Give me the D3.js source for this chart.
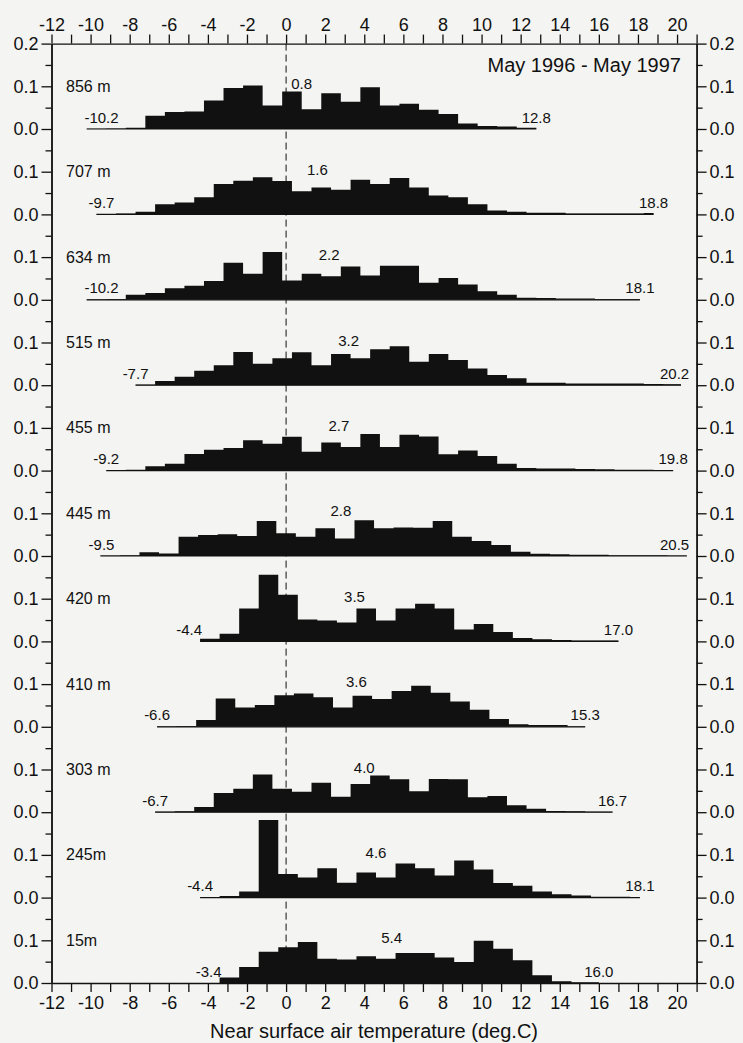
<!DOCTYPE html>
<html>
<head>
<meta charset="utf-8">
<script src="https://cdn.jsdelivr.net/npm/d3@7"></script>
<style>
  body { margin: 0; background: #f4f4f2; }
  text { font-family: "Liberation Sans", Arial, sans-serif; fill: #111; }
</style>
</head>
<body>
<div id="chart"></div>
<script>
// station heights, top panel first
const stations = ["856 m", "707 m", "634 m", "515 m", "455 m", "445 m", "420 m", "410 m", "303 m", "245m", "15m"];
const tMin  = [-10.2, -9.7, -10.2, -7.7, -9.2, -9.5, -4.4, -6.6, -6.7, -4.4, -3.4];
const tMax  = [12.8, 18.8, 18.1, 20.2, 19.8, 20.5, 17.0, 15.3, 16.7, 18.1, 16.0];
const tMean = [0.8, 1.6, 2.2, 3.2, 2.7, 2.8, 3.5, 3.6, 4.0, 4.6, 5.4];

// relative frequency in 1 deg bins, starting at each station's minimum
const f856 = [0.0005, 0.001, 0.003, 0.031, 0.040, 0.041, 0.067, 0.096, 0.102, 0.055, 0.088, 0.046, 0.084, 0.064, 0.098, 0.055, 0.059, 0.045, 0.035, 0.013, 0.007, 0.006, 0.003];
const f707 = [0.001, 0.002, 0.006, 0.024, 0.028, 0.040, 0.071, 0.079, 0.087, 0.078, 0.054, 0.063, 0.058, 0.081, 0.071, 0.085, 0.063, 0.044, 0.040, 0.024, 0.009, 0.006, 0.004, 0.004, 0.002, 0.002, 0.002, 0.002, 0.003];
const f634 = [0.001, 0.002, 0.012, 0.016, 0.027, 0.033, 0.044, 0.087, 0.061, 0.112, 0.045, 0.061, 0.055, 0.078, 0.057, 0.080, 0.080, 0.040, 0.051, 0.036, 0.020, 0.012, 0.005, 0.004, 0.003, 0.003, 0.002, 0.002, 0.002];
const f515 = [0.001, 0.010, 0.020, 0.034, 0.047, 0.078, 0.050, 0.063, 0.077, 0.047, 0.073, 0.063, 0.084, 0.091, 0.055, 0.073, 0.059, 0.039, 0.024, 0.016, 0.006, 0.006, 0.004, 0.004, 0.004, 0.004, 0.003, 0.002];
const f455 = [0.001, 0.002, 0.010, 0.016, 0.039, 0.049, 0.053, 0.071, 0.063, 0.079, 0.044, 0.066, 0.055, 0.086, 0.055, 0.084, 0.080, 0.038, 0.047, 0.034, 0.016, 0.006, 0.005, 0.005, 0.004, 0.003, 0.002, 0.002, 0.001];
const f445 = [0.001, 0.002, 0.009, 0.006, 0.045, 0.049, 0.051, 0.047, 0.082, 0.053, 0.045, 0.065, 0.041, 0.084, 0.065, 0.067, 0.066, 0.082, 0.045, 0.035, 0.026, 0.010, 0.005, 0.004, 0.003, 0.003, 0.002, 0.002, 0.002, 0.001];
const f420 = [0.006, 0.018, 0.077, 0.156, 0.109, 0.051, 0.049, 0.044, 0.077, 0.049, 0.077, 0.088, 0.077, 0.028, 0.041, 0.022, 0.008, 0.005, 0.003, 0.002, 0.002, 0.002];
const f410 = [0.001, 0.002, 0.016, 0.066, 0.045, 0.051, 0.074, 0.078, 0.069, 0.045, 0.073, 0.065, 0.084, 0.096, 0.080, 0.059, 0.040, 0.018, 0.006, 0.004, 0.004, 0.001];
const f303 = [0.001, 0.002, 0.012, 0.045, 0.055, 0.088, 0.055, 0.048, 0.069, 0.036, 0.066, 0.086, 0.077, 0.049, 0.078, 0.077, 0.035, 0.038, 0.016, 0.008, 0.003, 0.002, 0.001, 0.001];
const f245 = [0.001, 0.004, 0.014, 0.182, 0.055, 0.047, 0.069, 0.035, 0.059, 0.047, 0.080, 0.069, 0.052, 0.087, 0.066, 0.034, 0.028, 0.014, 0.008, 0.005, 0.002, 0.002, 0.001];
const f15  = [0.013, 0.0375, 0.073, 0.084, 0.096, 0.057, 0.055, 0.0625, 0.057, 0.070, 0.070, 0.060, 0.049, 0.099, 0.080, 0.053, 0.018, 0.004, 0.001, 0.001];
const freqs = [f856, f707, f634, f515, f455, f445, f420, f410, f303, f245, f15];

const title = "May 1996 - May 1997";
const xLabel = "Near surface air temperature (deg.C)";

const width = 743, height = 1043;
const margin = {top: 43.6, right: 46.4, bottom: 60, left: 51.5};
const n = stations.length;
const panelSpan = 0.2;

const x = d3.scaleLinear().domain([-12, 21]).range([margin.left, width - margin.right]);
// stacked y: each panel takes 0.2 of frequency, bottom panel at 0
const y = d3.scaleLinear().domain([0, n * panelSpan]).range([height - margin.bottom, margin.top]);
const off = k => (n - 1 - k) * panelSpan;

const svg = d3.select("#chart").append("svg")
  .attr("width", width).attr("height", height);

// histograms
const area = d3.area()
  .curve(d3.curveStepAfter)
  .x(d => x(d[0]));

freqs.forEach((f, k) => {
  const o = off(k);
  const pts = f.map((v, i) => [tMin[k] + i, v]);
  pts.push([tMax[k], f[f.length - 1]]);
  svg.append("path")
    .datum(pts)
    .attr("fill", "#111")
    .attr("d", area.y0(y(o)).y1(d => y(o + d[1])));
  svg.append("line")
    .attr("x1", x(tMin[k])).attr("x2", x(tMax[k]))
    .attr("y1", y(o)).attr("y2", y(o))
    .attr("stroke", "#111").attr("stroke-width", 1.2);

  svg.append("text")
    .attr("x", 66).attr("y", y(o + 0.1) + 5.5)
    .style("font-size", "16px")
    .text(stations[k]);

  svg.append("text")
    .attr("x", x(tMean[k])).attr("y", y(o + 0.1) + 3)
    .attr("text-anchor", "middle")
    .style("font-size", "15px")
    .text(tMean[k].toFixed(1));

  // min label sits left of the histogram when the first bin is already visible
  const minLbl = svg.append("text")
    .attr("y", y(o + 0.015))
    .style("font-size", "15px")
    .text(tMin[k].toFixed(1));
  if (f[0] > 0.005) {
    minLbl.attr("x", x(tMin[k]) + 2).attr("text-anchor", "end");
  } else {
    minLbl.attr("x", Math.max(x(tMin[k]), margin.left + 50)).attr("text-anchor", "middle");
  }

  svg.append("text")
    .attr("x", Math.min(x(tMax[k]), width - margin.right - 22)).attr("y", y(o + 0.015))
    .attr("text-anchor", "middle")
    .style("font-size", "15px")
    .text(tMax[k].toFixed(1));
});

// zero line
svg.append("line")
  .attr("x1", x(0)).attr("x2", x(0))
  .attr("y1", y(n * panelSpan)).attr("y2", y(0))
  .attr("stroke", "#111").attr("stroke-width", 1)
  .attr("stroke-dasharray", "7,4");

// axes
const major = d3.range(0, n * 2 + 1).map(i => i / 10);
const minor = d3.range(0, n * 2).map(i => i / 10 + 0.05);
const yFmt = v => v > n * panelSpan - 0.01 ? "0.2" : (Math.round(v * 10) % 2 ? "0.1" : "0.0");
const xTicks = d3.range(-12, 22);
const xFmt = d => (d % 2 === 0 && d <= 20) ? String(d) : "";

function style(g) {
  g.selectAll("path.domain").attr("stroke", "#111").attr("stroke-width", 1.4);
  g.selectAll(".tick line").attr("stroke", "#111").attr("stroke-width", 1.3);
  g.selectAll("text").style("font-size", "18px").attr("fill", "#111")
    .style("font-family", "'Liberation Sans', Arial, sans-serif");
}

svg.append("g").attr("transform", `translate(${x(-12)},0)`)
  .call(d3.axisLeft(y).tickValues(major).tickFormat(yFmt).tickSize(10).tickSizeOuter(0).tickPadding(3))
  .call(style);
svg.append("g").attr("transform", `translate(${x(-12)},0)`)
  .call(d3.axisLeft(y).tickValues(minor).tickFormat("").tickSize(6).tickSizeOuter(0))
  .call(style);
svg.append("g").attr("transform", `translate(${x(21)},0)`)
  .call(d3.axisRight(y).tickValues(major).tickFormat(yFmt).tickSize(10).tickSizeOuter(0).tickPadding(3))
  .call(style);
svg.append("g").attr("transform", `translate(${x(21)},0)`)
  .call(d3.axisRight(y).tickValues(minor).tickFormat("").tickSize(6).tickSizeOuter(0))
  .call(style);

svg.append("g").attr("transform", `translate(0,${y(n * panelSpan)})`)
  .call(d3.axisTop(x).tickValues(xTicks).tickFormat(xFmt).tickSize(9).tickSizeOuter(0).tickPadding(4))
  .call(style);
svg.append("g").attr("transform", `translate(0,${y(0)})`)
  .call(d3.axisBottom(x).tickValues(xTicks).tickFormat(xFmt).tickSize(9).tickSizeOuter(0).tickPadding(4))
  .call(style);

svg.append("text")
  .attr("x", x(20.2)).attr("y", 72)
  .attr("text-anchor", "end")
  .style("font-size", "20px")
  .text(title);

svg.append("text")
  .attr("x", (x(-12) + x(21)) / 2).attr("y", 1038)
  .attr("text-anchor", "middle")
  .style("font-size", "20px")
  .text(xLabel);
</script>
</body>
</html>
